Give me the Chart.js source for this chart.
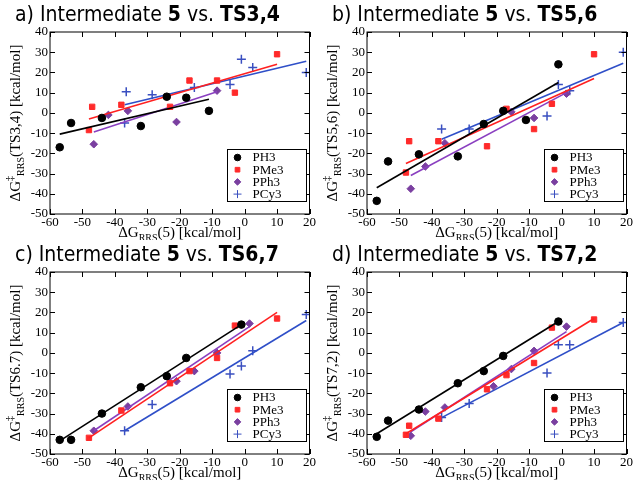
<!DOCTYPE html>
<html><head><meta charset="utf-8">
<script src="https://cdn.jsdelivr.net/npm/chart.js@4"></script>
<style>
body{margin:0;background:#fff;width:634px;height:481px;position:relative;overflow:hidden}
.panel{position:absolute;width:317px;height:240px}
.panel canvas{position:absolute;left:0;top:0}
.ttl{position:absolute;left:15px;top:2px;font:21px "DejaVu Sans Condensed","DejaVu Sans",sans-serif;color:#000;white-space:nowrap}
</style></head><body>
<script>
// x positions of each ligand, y values per panel, and fitted line ends
var xPH3 = [-57, -53.5, -44, -32, -24, -18, -11, -1];
var xPMe3 = [-48, -47, -38, -23, -17, -8.5, -3, 10];
var xPPh3 = [-46.5, -42, -36, -21, -15.5, -8.5, 1.5];
var xPCy3 = [-37, -36.5, -28.5, -15.5, -4.5, -1, 2.5, 19];

var titles = [["a) Intermediate ", "5", " vs. ", "TS3,4"], ["b) Intermediate ", "5", " vs. ", "TS5,6"],
              ["c) Intermediate ", "5", " vs. ", "TS6,7"], ["d) Intermediate ", "5", " vs. ", "TS7,2"]];
var yLabels = ["(TS3,4) [kcal/mol]", "(TS5,6) [kcal/mol]", "(TS6.7) [kcal/mol]", "(TS7,2) [kcal/mol]"];

// null = no point for that x in that panel
var yPH3 = [
  [-17, -5, -2.5, -6.5, 8, 7.5, 1, null],
  [-43.5, -24, -20.5, -21.5, -5.5, 1, -3.5, 24],
  [-43, -43, -30, -17, -11.5, -2.5, null, 14],
  [-41.5, -33.5, -28, -15, -9, -1.5, null, 15.5]];
var yPMe3 = [
  [-8.5, 3, 4, 3, 16, 16, 10, 29],
  [-29.5, -14, -14, -16.5, 2, -8, 4.5, 29],
  [-42, null, -28.5, -15, -9, -2.5, 13.5, 17],
  [-40.5, -36, -32.5, -18, -11, -5, 12.5, 16.5]];
var yPPh3 = [
  [-15.5, -1, 1, -4.5, null, 11, null],
  [-37.5, -26.5, -15, null, 0.5, -2.5, 9.5],
  [-38.5, null, -26.5, -14, -9, 0, 14.5],
  [-41, -29, -27, -16.5, -8, 1, 13]];
var yPCy3 = [
  [-5, 10.5, 9, 12.5, 14, 26.5, 22.5, 20],
  [-8, null, -8, null, -1.5, 14, 11, 30],
  [-38.5, null, -25.5, null, -10.5, -6.5, 1, 19],
  [-32, null, -25, null, -10, 4, 4, 15]];

// fitted line endpoints [x0, y0, x1, y1]
var fitPH3 = [[-57, -10.5, -11, 6.7], [-57, -37, -1, 15], [-57, -43.5, -1, 14], [-57, -40, -1, 15.5]];
var fitPMe3 = [[-48, -3, 10, 24], [-48, -25, 10, 17], [-48, -42, 10, 20], [-48, -40, 10, 17]];
var fitPPh3 = [[-46.5, -9.5, -8.5, 10.5], [-46.5, -31, 1.5, 10], [-46.5, -38.5, 1.5, 13], [-46.5, -39, 1.5, 10.5]];
var fitPCy3 = [[-37, 4, 19, 25.5], [-37, -13, 19, 24.5], [-37, -38.5, 19, 16], [-37, -32, 19, 15]];

var ligands = ["PH3", "PMe3", "PPh3", "PCy3"];
var colors = ["#000000", "#ff2a2a", "#7a3fa0", "#3a4fc0"];
var lineColors = ["#000000", "#ff2020", "#8a3fc0", "#2f4fc8"];
var styles = ["circle", "rect", "rectRot", "cross"];
var radii = [3.8, 3.8, 3.8, 4.5];

function pts(xs, ys) {
  var out = [];
  for (var i = 0; i < xs.length; i++) if (ys[i] !== null) out.push({x: xs[i], y: ys[i]});
  return out;
}

function rich(ctx, segs, x, y, rot) {
  ctx.save();
  ctx.translate(x, y);
  ctx.rotate(rot);
  var w = 0;
  segs.forEach(function(s) { ctx.font = s.size + 'px "Liberation Serif", serif'; w += ctx.measureText(s.t).width; });
  var cx = -w / 2;
  ctx.fillStyle = '#000';
  ctx.textBaseline = 'middle';
  segs.forEach(function(s) {
    ctx.font = s.size + 'px "Liberation Serif", serif';
    ctx.fillText(s.t, cx, s.dy);
    cx += ctx.measureText(s.t).width;
  });
  ctx.restore();
}

var frame = {
  id: 'frame',
  afterDraw: function(chart) {
    var ctx = chart.ctx, a = chart.chartArea, sx = chart.scales.x, sy = chart.scales.y;
    ctx.save();
    ctx.strokeStyle = '#000';
    ctx.lineWidth = 1;
    ctx.strokeRect(a.left, a.top, a.right - a.left, a.bottom - a.top);
    ctx.beginPath();
    sx.ticks.forEach(function(t) {
      var px = Math.round(sx.getPixelForValue(t.value)) + 0.5;
      ctx.moveTo(px, a.bottom); ctx.lineTo(px, a.bottom - 5);
      ctx.moveTo(px, a.top); ctx.lineTo(px, a.top + 5);
    });
    sy.ticks.forEach(function(t) {
      var py = Math.round(sy.getPixelForValue(t.value)) + 0.5;
      ctx.moveTo(a.left, py); ctx.lineTo(a.left + 5, py);
      ctx.moveTo(a.right, py); ctx.lineTo(a.right - 5, py);
    });
    ctx.stroke();

    // legend box
    var lx = 227.5, ly = 149.5;
    ctx.fillStyle = '#fff';
    ctx.fillRect(lx, ly, 79, 52);
    ctx.strokeRect(lx, ly, 79, 52);
    ctx.font = '13px "Liberation Serif", serif';
    ctx.textBaseline = 'middle';
    for (var i = 0; i < 4; i++) {
      var yy = ly + 8 + i * 12.2;
      ctx.fillStyle = colors[i];
      ctx.strokeStyle = colors[i];
      Chart.helpers.drawPoint(ctx, {pointStyle: styles[i], radius: radii[i] - 0.5, borderWidth: 1.5}, lx + 10, yy);
      ctx.fillStyle = '#000';
      ctx.fillText(ligands[i], lx + 25, yy + 0.5);
    }
    ctx.restore();

    rich(ctx, [{t: 'ΔG', size: 15, dy: 0}, {t: 'RRS', size: 10, dy: 5}, {t: '(5) [kcal/mol]', size: 15, dy: 0}],
         (a.left + a.right) / 2, 233, 0);
    var k = chart.options.plugins.frame.idx;
    rich(ctx, [{t: 'ΔG', size: 15, dy: 0}, {t: '‡', size: 10, dy: -6}, {t: 'RRS', size: 10, dy: 5}, {t: yLabels[k], size: 15, dy: 0}],
         16, (a.top + a.bottom) / 2, -Math.PI / 2);
  }
};

for (var p = 0; p < 4; p++) {
  var div = document.createElement('div');
  div.className = 'panel';
  div.style.left = (p % 2) * 317 + 'px';
  div.style.top = Math.floor(p / 2) * 240 + 'px';
  var t = titles[p];
  div.innerHTML = '<canvas width="317" height="240"></canvas><div class="ttl">' + t[0] + '<b>' + t[1] + '</b>' + t[2] + '<b>' + t[3] + '</b></div>';
  document.body.appendChild(div);

  var xs = [xPH3, xPMe3, xPPh3, xPCy3];
  var ys = [yPH3[p], yPMe3[p], yPPh3[p], yPCy3[p]];
  var fits = [fitPH3[p], fitPMe3[p], fitPPh3[p], fitPCy3[p]];
  var datasets = [];
  for (var i = 0; i < 4; i++) {
    datasets.push({type: 'line', data: [{x: fits[i][0], y: fits[i][1]}, {x: fits[i][2], y: fits[i][3]}],
      borderColor: lineColors[i], borderWidth: 1.6, pointRadius: 0, fill: false});
    datasets.push({type: 'scatter', label: ligands[i], data: pts(xs[i], ys[i]), pointStyle: styles[i],
      pointRadius: radii[i], backgroundColor: colors[i], borderColor: colors[i], borderWidth: i == 3 ? 1.5 : 1});
  }
  new Chart(div.querySelector('canvas'), {
    type: 'scatter',
    data: {datasets: datasets},
    plugins: [frame],
    options: {
      responsive: false, animation: false, devicePixelRatio: 1,
      layout: {padding: {top: 32, right: 7, left: 0, bottom: 0}},
      plugins: {legend: {display: false}, tooltip: {enabled: false}, frame: {idx: p}},
      scales: {
        x: {type: 'linear', min: -60, max: 20, ticks: {stepSize: 10, color: '#000', padding: 1, maxRotation: 0, font: {family: 'Liberation Serif', size: 13}},
            grid: {display: false, drawTicks: false, tickLength: 0}, border: {display: false},
            afterFit: function(s) { s.height = 26; }},
        y: {min: -50, max: 40, ticks: {stepSize: 10, color: '#000', padding: 2, font: {family: 'Liberation Serif', size: 13}},
            grid: {display: false, drawTicks: false, tickLength: 0}, border: {display: false}, afterFit: function(s) { s.width = 50; }}
      }
    }
  });
}
</script>
</body></html>
